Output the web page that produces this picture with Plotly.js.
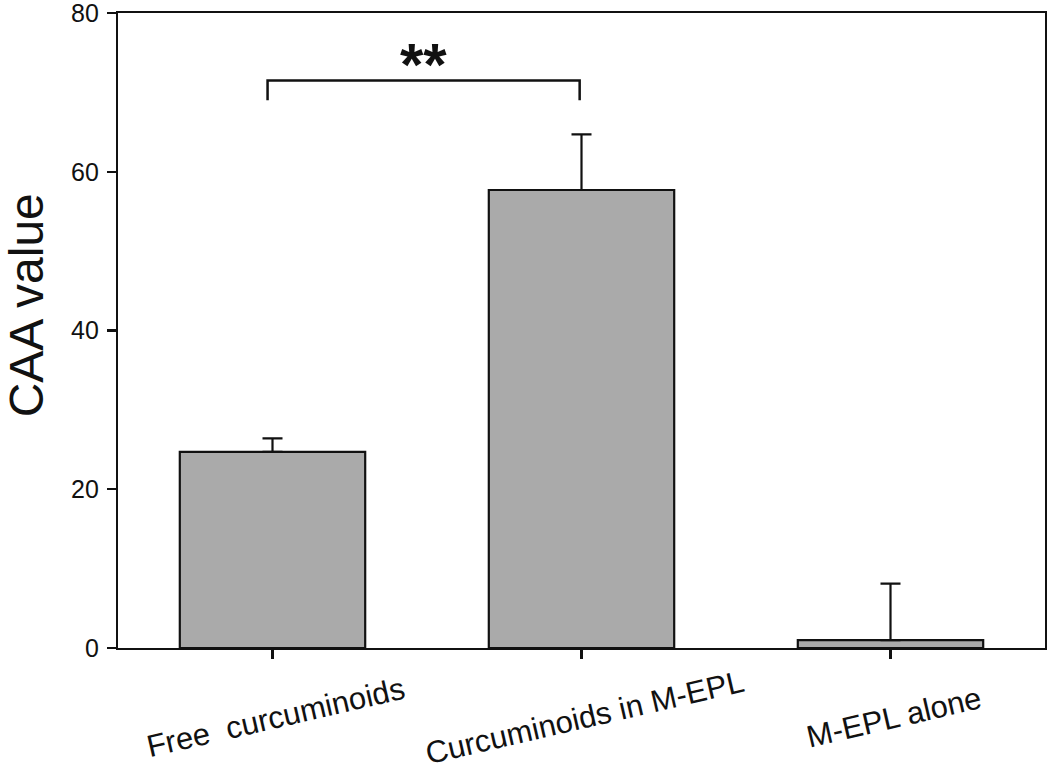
<!DOCTYPE html>
<html>
<head>
<meta charset="utf-8">
<script src="https://cdn.plot.ly/plotly-3.0.1.min.js"></script>
<style>html,body{margin:0;padding:0;background:#fff;}#chart{width:1050px;height:770px;}</style>
</head>
<body>
<div id="chart"></div>
<script>
const categories = ["Free  curcuminoids", "Curcuminoids in M-EPL", "M-EPL alone"];
const caaValues = [24.7, 57.7, 1.0];
const caaErrors = [1.7, 7.0, 7.1];
const yTickValues = [0, 20, 40, 60, 80];
const yTitle = "CAA value";
const bracketFrom = 0;
const bracketTo = 1;
const bracketLow = 69.0;
const bracketHigh = 71.5;
const significanceLabel = "**";

const xIdx = categories.map((c, i) => i);
const FONT = "'Liberation Sans', Arial, sans-serif";

const trace = {
  type: "bar",
  x: xIdx,
  y: caaValues,
  width: 0.6,
  marker: {color: "#aaaaaa", line: {color: "#111111", width: 2.2}},
  error_y: {type: "data", array: caaErrors, arrayminus: caaErrors.map(() => 0), symmetric: false,
            color: "#111111", thickness: 2.2, width: 10},
  hoverinfo: "skip"
};

const labelAnnotations = categories.map((c, i) => ({
  x: i + 0.01, xref: "x", y: -0.11, yref: "paper",
  text: c, showarrow: false, textangle: -13,
  xanchor: "center", yanchor: "middle",
  font: {family: FONT, size: 31, color: "#111111"}
}));

const layout = {
  width: 1050, height: 770,
  margin: {l: 118, r: 5, t: 13, b: 122},
  paper_bgcolor: "#ffffff", plot_bgcolor: "#ffffff",
  showlegend: false,
  font: {family: FONT, color: "#111111"},
  xaxis: {
    range: [-0.5, 2.5], tickvals: xIdx, ticktext: categories.map(() => ""),
    ticks: "outside", ticklen: 9, tickwidth: 2.2, tickcolor: "#111111",
    showline: true, linecolor: "#111111", linewidth: 2.2, mirror: true,
    showgrid: false, zeroline: false, fixedrange: true
  },
  yaxis: {
    range: [0, 80], tickvals: yTickValues,
    ticks: "outside", ticklen: 9, tickwidth: 2.2, tickcolor: "#111111",
    tickfont: {family: FONT, size: 25, color: "#111111"},
    ticklabelstandoff: 3, ticklabeloverflow: "allow",
    showline: true, linecolor: "#111111", linewidth: 2.2, mirror: true,
    showgrid: false, zeroline: false, fixedrange: true
  },
  shapes: [{
    type: "path", xref: "x", yref: "y",
    path: `M ${bracketFrom - 0.016},${bracketLow} L ${bracketFrom - 0.016},${bracketHigh} L ${bracketTo - 0.006},${bracketHigh} L ${bracketTo - 0.006},${bracketLow}`,
    line: {color: "#111111", width: 2.5}
  }],
  annotations: labelAnnotations.concat([{
    x: (bracketFrom + bracketTo) / 2 - 0.01, xref: "x", y: 69.1, yref: "y",
    text: "<b>" + significanceLabel + "</b>", showarrow: false,
    xanchor: "center", yanchor: "bottom",
    font: {family: FONT, size: 60, color: "#111111"}
  }, {
    x: -0.099, xref: "paper", y: 0.54, yref: "paper",
    text: yTitle, showarrow: false, textangle: -90,
    xanchor: "center", yanchor: "middle",
    font: {family: FONT, size: 48, color: "#111111"}
  }])
};

Plotly.newPlot("chart", [trace], layout, {displayModeBar: false, staticPlot: true});
</script>
</body>
</html>
